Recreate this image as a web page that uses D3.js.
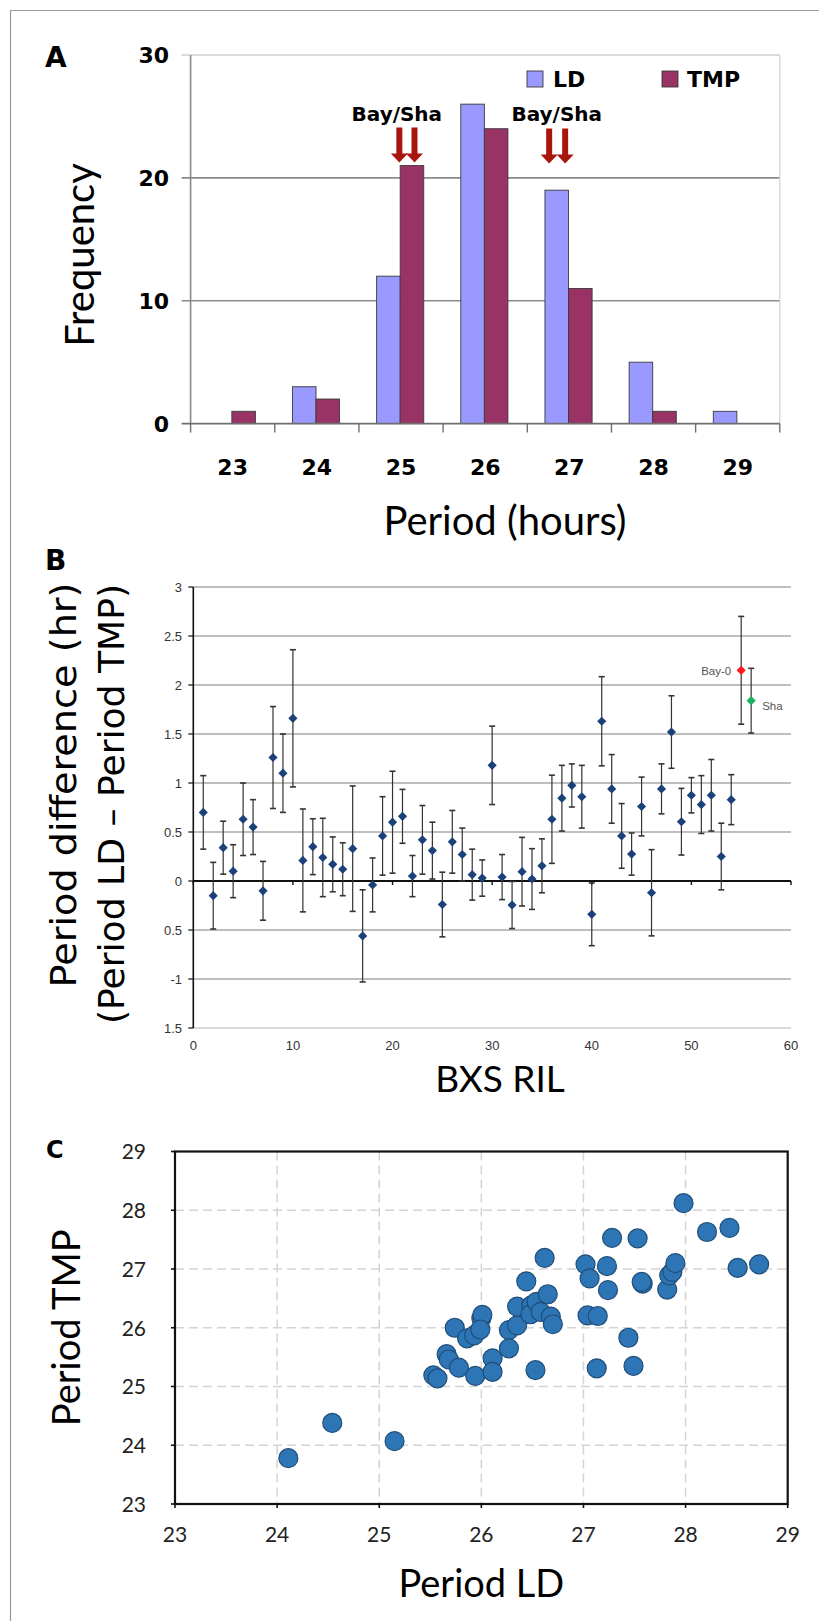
<!DOCTYPE html>
<html>
<head>
<meta charset="utf-8">
<script src="https://cdn.jsdelivr.net/npm/d3@7"></script>
<style>
    html, body { margin: 0; padding: 0; background: #fff; }
    svg { display: block; }
</style>
</head>
<body>
<svg id="fig" width="819" height="1621"></svg>
<script>
// ── Panel A: period histogram ──────────────────────────────────────────────
const periodBins = ['23', '24', '25', '26', '27', '28', '29'];
const ldFreq     = [0, 3, 12, 26, 19, 5, 1];
const tmpFreq    = [1, 2, 21, 24, 11, 1, 0];
const freqTicks  = [0, 10, 20, 30];
const seriesA    = ['LD', 'TMP'];
// Bay/Sha arrows, in hours
const arrowPairs   = [[24.98, 25.16], [26.76, 26.95]];
const arrowLabelAt = [24.95, 26.85];

// ── Panel B: LD - TMP period difference per RIL ────────────────────────────
const rilIndex = [1, 2, 3, 4, 5, 6, 7, 8, 9, 10, 11, 12, 13, 14, 15, 16, 17, 18,
    19, 20, 21, 22, 23, 24, 25, 26, 27, 28, 29, 30, 31, 32, 33, 34, 35, 36, 37,
    38, 39, 40, 41, 42, 43, 44, 45, 46, 47, 48, 49, 50, 51, 52, 53, 54];
const periodDiff = [0.70, -0.15, 0.34, 0.10, 0.63, 0.55, -0.10, 1.26, 1.10, 1.66,
    0.21, 0.35, 0.24, 0.17, 0.12, 0.33, -0.56, -0.04, 0.46, 0.60, 0.66, 0.05,
    0.42, 0.31, -0.24, 0.40, 0.27, 0.065, 0.03, 1.18, 0.04, -0.245, 0.095, 0.02,
    0.155, 0.63, 0.845, 0.975, 0.86, -0.34, 1.63, 0.94, 0.46, 0.275, 0.76, -0.12,
    0.94, 1.52, 0.605, 0.875, 0.78, 0.875, 0.25, 0.83];
const diffErr = [0.375, 0.34, 0.27, 0.27, 0.37, 0.28, 0.30, 0.52, 0.40, 0.70,
    0.525, 0.285, 0.40, 0.28, 0.27, 0.64, 0.47, 0.275, 0.40, 0.52, 0.275, 0.21,
    0.35, 0.29, 0.33, 0.32, 0.27, 0.26, 0.185, 0.40, 0.23, 0.24, 0.35, 0.31,
    0.275, 0.45, 0.335, 0.22, 0.32, 0.32, 0.455, 0.35, 0.33, 0.215, 0.30, 0.44,
    0.255, 0.37, 0.34, 0.18, 0.295, 0.365, 0.34, 0.255];
const refNames  = ['Bay-0', 'Sha'];
const refIndex  = [55, 56];
const refDiff   = [2.15, 1.84];
const refErr    = [0.55, 0.33];
const refColors = ['#ff1a1a', '#16b35a'];
const diffTicks      = [-1.5, -1, -0.5, 0, 0.5, 1, 1.5, 2, 2.5, 3];
const diffTickLabels = ['1.5', '-1', '0.5', '0', '0.5', '1', '1.5', '2', '2.5', '3'];
const rilTicks = [0, 10, 20, 30, 40, 50, 60];

// ── Panel C: LD vs TMP period ──────────────────────────────────────────────
const periodLD = [24.11, 24.54, 25.15, 25.53, 25.57, 25.66, 25.68, 25.78, 25.74,
    25.86, 25.94, 25.93, 26.00, 26.01, 25.99, 26.11, 26.11, 26.27, 26.27, 26.35,
    26.35, 26.44, 26.49, 26.48, 26.54, 26.58, 26.65, 26.68, 26.70, 26.62, 26.53,
    27.02, 27.06, 27.23, 27.24, 27.28, 27.04, 27.14, 27.13, 27.44, 27.49, 27.53,
    27.58, 27.57, 27.82, 27.84, 27.87, 27.90, 27.98, 28.21, 28.43, 28.51, 28.72];
const periodTMP = [23.78, 24.38, 24.07, 25.19, 25.14, 25.55, 25.46, 25.32, 26.00,
    25.82, 25.18, 25.87, 26.16, 26.22, 25.97, 25.48, 25.25, 25.96, 25.65, 26.04,
    26.36, 26.79, 26.38, 26.23, 26.44, 26.27, 26.57, 26.19, 26.06, 27.19, 25.28,
    27.08, 26.84, 27.05, 26.64, 27.53, 26.21, 26.20, 25.31, 25.83, 25.35, 27.52,
    26.75, 26.78, 26.65, 26.89, 26.95, 27.10, 28.12, 27.63, 27.70, 27.02, 27.08];
const periodTicks = [23, 24, 25, 26, 27, 28, 29];

(function () {
    'use strict';

    const BOLD  = '"DejaVu Sans", sans-serif';
    const ARIAL = '"Liberation Sans", Arial, sans-serif';
    const CALI  = 'Lato, "Open Sans", sans-serif';

    const svg = d3.select('#fig');

    // outer frame (only top/left edges fall inside the page)
    svg.append('path')
        .attr('d', 'M10.5,1621 V10.5 H819')
        .attr('fill', 'none')
        .attr('stroke', '#9a9a9a')
        .attr('stroke-width', 1.2);

    function panelLabel(txt, x, y, size) {
        svg.append('text')
            .attr('x', x).attr('y', y)
            .style('font-family', BOLD).style('font-weight', 'bold')
            .style('font-size', size + 'px')
            .text(txt);
    }

    // ── Panel A ───────────────────────────────────────────────────────────
    function drawA() {
        const P = { l: 190.6, r: 779.8, t: 55, b: 423.6 };
        const g = svg.append('g');

        const x  = d3.scaleBand().domain(periodBins).range([P.l, P.r]);
        const bw = x.bandwidth();
        const xs = d3.scaleBand().domain(seriesA).range([bw * 0.21, bw * 0.77]);
        const y  = d3.scaleLinear().domain([0, 30]).range([P.b, P.t]);
        const hx = d3.scaleLinear().domain([23, 29]).range([P.l + bw / 2, P.r - bw / 2]);
        const fill = { LD: '#9999ff', TMP: '#993366' };

        // grid + left ticks
        g.append('g').selectAll('line')
            .data(freqTicks.filter(v => v > 0))
            .enter().append('line')
            .attr('x1', P.l - 9).attr('x2', P.r)
            .attr('y1', d => y(d)).attr('y2', d => y(d))
            .attr('stroke', d => d === 30 ? '#cfcfcf' : '#8a8a8a')
            .attr('stroke-width', 1.6);

        g.append('line')
            .attr('x1', P.r).attr('x2', P.r).attr('y1', P.t).attr('y2', P.b)
            .attr('stroke', '#d0d0d0').attr('stroke-width', 1.2);
        g.append('line')
            .attr('x1', P.l).attr('x2', P.l).attr('y1', P.t).attr('y2', P.b)
            .attr('stroke', '#8a8a8a').attr('stroke-width', 1.6);

        // y tick labels
        g.append('g').selectAll('text')
            .data(freqTicks)
            .enter().append('text')
            .attr('x', 169).attr('y', d => y(d))
            .attr('dy', '0.36em')
            .attr('text-anchor', 'end')
            .style('font-family', BOLD).style('font-weight', 'bold')
            .style('font-size', '22px')
            .text(d => d);

        // bars
        const rows = periodBins.map((p, i) => ({ p, LD: ldFreq[i], TMP: tmpFreq[i] }));
        g.append('g').selectAll('g')
            .data(rows)
            .enter().append('g')
            .attr('transform', d => `translate(${x(d.p)},0)`)
            .selectAll('rect')
            .data(d => seriesA.map(k => ({ k, v: d[k] })).filter(e => e.v > 0))
            .enter().append('rect')
            .attr('x', d => xs(d.k))
            .attr('width', xs.bandwidth())
            .attr('y', d => y(d.v))
            .attr('height', d => y(0) - y(d.v))
            .attr('fill', d => fill[d.k])
            .attr('stroke', '#3a3a3a')
            .attr('stroke-width', 0.9);

        // x axis
        g.append('line')
            .attr('x1', P.l - 9).attr('x2', P.r).attr('y1', P.b).attr('y2', P.b)
            .attr('stroke', '#6f6f6f').attr('stroke-width', 1.6);
        const bounds = periodBins.map(p => x(p)).concat([P.r]);
        g.append('g').selectAll('line')
            .data(bounds)
            .enter().append('line')
            .attr('x1', d => d).attr('x2', d => d)
            .attr('y1', P.b).attr('y2', P.b + 9)
            .attr('stroke', '#6f6f6f').attr('stroke-width', 1.4);
        g.append('g').selectAll('text')
            .data(periodBins)
            .enter().append('text')
            .attr('x', d => x(d) + bw / 2).attr('y', 475)
            .attr('text-anchor', 'middle')
            .style('font-family', BOLD).style('font-weight', 'bold')
            .style('font-size', '22px')
            .text(d => d);

        // legend
        const lg = g.append('g').selectAll('g')
            .data(seriesA)
            .enter().append('g')
            .attr('transform', (d, i) => `translate(${i === 0 ? 527 : 662},71)`);
        lg.append('rect')
            .attr('width', 16).attr('height', 16)
            .attr('fill', d => fill[d]).attr('stroke', '#3a3a3a').attr('stroke-width', 0.9);
        lg.append('text')
            .attr('x', d => d === 'LD' ? 26 : 25).attr('y', 16)
            .style('font-family', BOLD).style('font-weight', 'bold')
            .style('font-size', '22px')
            .text(d => d);

        // Bay/Sha arrows
        const arrow = 'M-3,0 H3 V26 H8.5 L0,35 L-8.5,26 H-3 Z';
        arrowPairs.forEach((pair, i) => {
            g.append('text')
                .attr('x', hx(arrowLabelAt[i])).attr('y', 121)
                .attr('text-anchor', 'middle')
                .style('font-family', BOLD).style('font-weight', 'bold')
                .style('font-size', '20px')
                .text('Bay/Sha');
            g.selectAll(null)
                .data(pair)
                .enter().append('path')
                .attr('d', arrow)
                .attr('transform', d => `translate(${hx(d)},${127.5 + i})`)
                .attr('fill', '#a8150c');
        });

        // titles
        g.append('text')
            .attr('transform', 'translate(93.5,255) rotate(-90)')
            .attr('text-anchor', 'middle')
            .style('font-family', CALI).style('font-size', '40px')
            .text('Frequency');
        g.append('text')
            .attr('x', 505).attr('y', 535)
            .attr('text-anchor', 'middle')
            .style('font-family', CALI).style('font-size', '40px')
            .text('Period (hours)');

        panelLabel('A', 45, 67, 28);
    }

    // ── Panel B ───────────────────────────────────────────────────────────
    function drawB() {
        const P = { l: 193.3, r: 791, t: 587, b: 1028 };
        const g = svg.append('g');

        const x = d3.scaleLinear().domain([0, 60]).range([P.l, P.r]);
        const y = d3.scaleLinear().domain([-1.5, 3]).range([P.b, P.t]);

        // grid
        g.append('g').selectAll('line')
            .data(diffTicks.filter(v => v !== 0))
            .enter().append('line')
            .attr('x1', P.l).attr('x2', P.r)
            .attr('y1', d => y(d)).attr('y2', d => y(d))
            .attr('stroke', d => d === -1.5 ? '#cfcfcf' : '#a8a8a8')
            .attr('stroke-width', 1.3);

        // y axis
        g.append('line')
            .attr('x1', P.l).attr('x2', P.l).attr('y1', P.t).attr('y2', P.b)
            .attr('stroke', '#111').attr('stroke-width', 1.6);
        g.append('g').selectAll('line')
            .data(diffTicks)
            .enter().append('line')
            .attr('x1', P.l - 5).attr('x2', P.l)
            .attr('y1', d => y(d)).attr('y2', d => y(d))
            .attr('stroke', '#111').attr('stroke-width', 1.2);
        g.append('g').selectAll('text')
            .data(diffTicks)
            .enter().append('text')
            .attr('x', 182).attr('y', d => y(d))
            .attr('dy', '0.35em')
            .attr('text-anchor', 'end')
            .style('font-family', ARIAL).style('font-size', '13px')
            .style('fill', '#333')
            .text((d, i) => diffTickLabels[i]);

        // x axis on zero
        g.append('line')
            .attr('x1', P.l).attr('x2', P.r).attr('y1', y(0)).attr('y2', y(0))
            .attr('stroke', '#111').attr('stroke-width', 2.2);
        g.append('g').selectAll('line')
            .data(rilTicks)
            .enter().append('line')
            .attr('x1', d => x(d)).attr('x2', d => x(d))
            .attr('y1', y(0)).attr('y2', y(0) + 4)
            .attr('stroke', '#111').attr('stroke-width', 1.4);
        g.append('g').selectAll('text')
            .data(rilTicks)
            .enter().append('text')
            .attr('x', d => x(d)).attr('y', 1050)
            .attr('text-anchor', 'middle')
            .style('font-family', ARIAL).style('font-size', '13px')
            .style('fill', '#333')
            .text(d => d);

        // points + error bars
        const pts = rilIndex.map((r, i) => ({ r, v: periodDiff[i], e: diffErr[i], c: '#1c4079' }))
            .concat(refIndex.map((r, i) => ({ r, v: refDiff[i], e: refErr[i], c: refColors[i], name: refNames[i] })));

        const eb = g.append('g').selectAll('g')
            .data(pts)
            .enter().append('g')
            .attr('stroke', '#333');
        eb.append('line')
            .attr('x1', d => x(d.r)).attr('x2', d => x(d.r))
            .attr('y1', d => y(d.v - d.e)).attr('y2', d => y(d.v + d.e))
            .attr('stroke-width', 1.2);
        eb.selectAll('line.cap')
            .data(d => [d.v - d.e, d.v + d.e].map(v => ({ r: d.r, v })))
            .enter().append('line')
            .attr('class', 'cap')
            .attr('x1', d => x(d.r) - 3).attr('x2', d => x(d.r) + 3)
            .attr('y1', d => y(d.v)).attr('y2', d => y(d.v))
            .attr('stroke-width', 1.6);

        const diamond = d3.symbol(d3.symbolSquare, 42);
        g.append('g').selectAll('path')
            .data(pts)
            .enter().append('path')
            .attr('d', diamond)
            .attr('transform', d => `translate(${x(d.r)},${y(d.v)}) rotate(45)`)
            .attr('fill', d => d.c);

        // reference labels
        const refs = pts.filter(d => d.name);
        g.append('g').selectAll('text')
            .data(refs)
            .enter().append('text')
            .attr('x', d => d.name === 'Sha' ? x(d.r) + 11 : x(d.r) - 10)
            .attr('y', d => d.name === 'Sha' ? y(d.v) + 9 : y(d.v) + 4.5)
            .attr('text-anchor', d => d.name === 'Sha' ? 'start' : 'end')
            .style('font-family', ARIAL).style('font-size', '11.5px')
            .style('fill', '#555')
            .text(d => d.name);

        // titles
        g.append('text')
            .attr('transform', 'translate(76,785) rotate(-90)')
            .attr('text-anchor', 'middle')
            .attr('textLength', 405).attr('lengthAdjust', 'spacingAndGlyphs')
            .style('font-family', '"DejaVu Sans", sans-serif').style('font-size', '35px')
            .text('Period difference (hr)');
        g.append('text')
            .attr('transform', 'translate(124,804) rotate(-90)')
            .attr('text-anchor', 'middle')
            .attr('textLength', 440).attr('lengthAdjust', 'spacingAndGlyphs')
            .style('font-family', '"DejaVu Sans", sans-serif').style('font-size', '35px')
            .text('(Period LD \u2013 Period TMP)');
        g.append('text')
            .attr('x', 500).attr('y', 1092)
            .attr('text-anchor', 'middle')
            .style('font-family', CALI).style('font-size', '37px')
            .text('BXS RIL');

        panelLabel('B', 45, 570, 28);
    }

    // ── Panel C ───────────────────────────────────────────────────────────
    function drawC() {
        const P = { l: 175, r: 787.7, t: 1151.5, b: 1504 };
        const g = svg.append('g');

        const x = d3.scaleLinear().domain([23, 29]).range([P.l, P.r]);
        const y = d3.scaleLinear().domain([23, 29]).range([P.b, P.t]);
        const inner = periodTicks.slice(1, -1);

        // dashed grid
        g.append('g').selectAll('line')
            .data(inner)
            .enter().append('line')
            .attr('x1', d => x(d)).attr('x2', d => x(d)).attr('y1', P.t).attr('y2', P.b)
            .attr('stroke', '#d4d4d4').attr('stroke-width', 1.5)
            .attr('stroke-dasharray', '9,5');
        g.append('g').selectAll('line')
            .data(inner)
            .enter().append('line')
            .attr('x1', P.l).attr('x2', P.r).attr('y1', d => y(d)).attr('y2', d => y(d))
            .attr('stroke', '#d4d4d4').attr('stroke-width', 1.5)
            .attr('stroke-dasharray', '9,5');

        // points
        g.append('g').selectAll('circle')
            .data(periodLD.map((v, i) => [v, periodTMP[i]]))
            .enter().append('circle')
            .attr('cx', d => x(d[0])).attr('cy', d => y(d[1]))
            .attr('r', 9.5)
            .attr('fill', '#2e75b6')
            .attr('stroke', '#1f4e79')
            .attr('stroke-width', 1.2);

        // frame + ticks
        g.append('rect')
            .attr('x', P.l).attr('y', P.t)
            .attr('width', P.r - P.l).attr('height', P.b - P.t)
            .attr('fill', 'none').attr('stroke', '#111').attr('stroke-width', 2.2);
        g.append('g').selectAll('line')
            .data(periodTicks)
            .enter().append('line')
            .attr('x1', P.l - 4).attr('x2', P.l).attr('y1', d => y(d)).attr('y2', d => y(d))
            .attr('stroke', '#111').attr('stroke-width', 1.6);
        g.append('g').selectAll('line')
            .data(periodTicks)
            .enter().append('line')
            .attr('x1', d => x(d)).attr('x2', d => x(d)).attr('y1', P.b).attr('y2', P.b + 4)
            .attr('stroke', '#111').attr('stroke-width', 1.6);

        g.append('g').selectAll('text')
            .data(periodTicks)
            .enter().append('text')
            .attr('x', 146).attr('y', d => y(d))
            .attr('dy', '0.38em')
            .attr('text-anchor', 'end')
            .style('font-family', CALI).style('font-size', '21px')
            .style('fill', '#222')
            .text(d => d);
        g.append('g').selectAll('text')
            .data(periodTicks)
            .enter().append('text')
            .attr('x', d => x(d)).attr('y', 1542)
            .attr('text-anchor', 'middle')
            .style('font-family', CALI).style('font-size', '21px')
            .style('fill', '#222')
            .text(d => d);

        // titles
        g.append('text')
            .attr('transform', `translate(80,${(P.t + P.b) / 2}) rotate(-90)`)
            .attr('text-anchor', 'middle')
            .style('font-family', CALI).style('font-size', '38px')
            .text('Period TMP');
        g.append('text')
            .attr('x', (P.l + P.r) / 2).attr('y', 1597)
            .attr('text-anchor', 'middle')
            .style('font-family', CALI).style('font-size', '38px')
            .text('Period LD');

        panelLabel('C', 46, 1158, 24);
    }

    drawA();
    drawB();
    drawC();
})();
</script>
</body>
</html>
